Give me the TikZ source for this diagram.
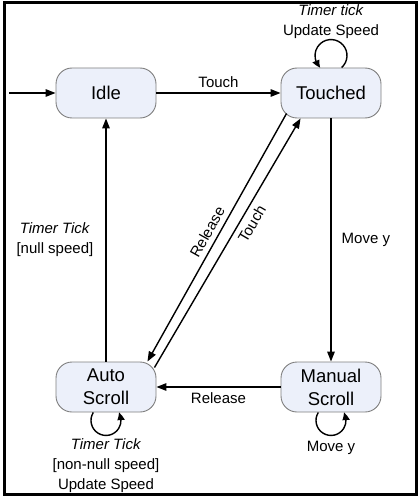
\documentclass[tikz,border=0pt]{standalone}
\usepackage{fontspec}
\setmainfont{Liberation Sans}
\usetikzlibrary{arrows.meta,calc,bending}
\definecolor{nodefill}{HTML}{ECF0FA}
\definecolor{nodeline}{HTML}{7F7F7F}
\begin{document}
\begin{tikzpicture}[x=1pt,y=-1pt,
  state/.style={draw=nodeline, line width=0.9pt, fill=nodefill, rounded corners=16pt,
    minimum width=100pt, minimum height=50pt, inner sep=0pt, align=center,
    font=\fontsize{18.5}{23}\selectfont},
  lbl/.style={inner sep=0pt, align=center, font=\fontsize{15}{20}\selectfont},
  arr/.style={line width=1.4pt, -{Triangle[length=10pt,width=7.5pt]}},
  looparr/.style={line width=1.4pt, -{Triangle[length=8pt,width=7pt,bend]}},
  ]
\useasboundingbox (0,0) rectangle (419,497);
\draw[line width=3pt] (4.5,3) rectangle (416,494.5);

\node[state] (idle) at (106,93) {Idle};
\node[state] (touched) at (331,93) {Touched};
\node[state] (auto) at (106,387) {Auto\\Scroll};
\node[state] (manual) at (331,387) {Manual\\Scroll};

\coordinate (start) at (9,93);
\draw[arr] (start) -- (idle);
\draw[arr] (idle) -- node[lbl, above=5pt]{Touch} (touched);
\draw[arr] (touched) -- node[lbl, right=10pt]{Move y} (manual);
\draw[arr] (manual) -- node[lbl, below=5pt]{Release} (auto);
\draw[arr] (auto) -- node[lbl, left=12pt]{\textit{Timer Tick}\\ {[}null speed]} (idle);

\draw[arr] ([xshift=6pt,yshift=5pt]touched.south west) -- node[lbl, sloped, above=5pt]{Release} ([xshift=-9pt]auto.north east);
\draw[arr] ([xshift=-2pt,yshift=-6pt]auto.north east) -- node[lbl, sloped, below=5pt, pos=0.6]{Touch} ([xshift=20pt]touched.south west);

\draw[looparr] ([xshift=10.6pt]touched.north) arc (48.5:-228.5:16);
\draw[looparr] ([xshift=-12.7pt]auto.south) arc (212.2:-32.2:15);
\draw[looparr] ([xshift=-12.7pt]manual.south) arc (212.2:-32.2:15);

\node[lbl] (tlbl) at (331,22) {\textit{Timer tick}\\Update Speed};
\node[lbl] (albl) at (106,466) {\textit{Timer Tick}\\ {[}non-null speed]\\Update Speed};
\node[lbl] (mlbl) at (331,448) {Move y};
\end{tikzpicture}
\end{document}
